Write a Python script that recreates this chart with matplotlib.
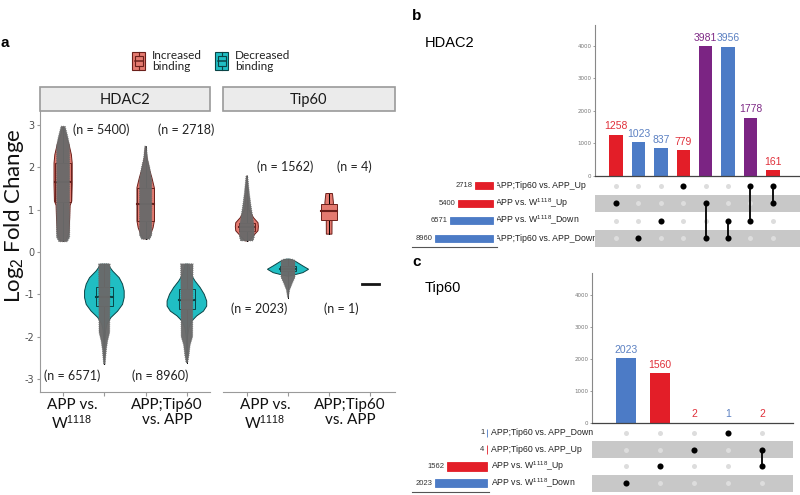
import matplotlib
matplotlib.use('Agg')
import matplotlib.pyplot as plt
from matplotlib.patches import Rectangle, Polygon

plt.rcParams['axes.unicode_minus'] = False
plt.rcParams['mathtext.fontset'] = 'custom'
plt.rcParams['mathtext.rm'] = 'Liberation Sans'
plt.rcParams['mathtext.it'] = 'Liberation Sans:italic'
plt.rcParams['mathtext.bf'] = 'Liberation Sans:bold'

FIG_W, FIG_H = 800, 495

# ---------------------------------------------------------------- panel a
FACETS = ['HDAC2', 'Tip60']
COMPARISONS = ['APP vs.\nW$^{1118}$', 'APP;Tip60\nvs. APP']
GROUPS = ['Increased\nbinding', 'Decreased\nbinding']

# violin outlines, (log2 FC, half width in category units)
HDAC2_APP_UP = [(0.26, 0.06), (0.45, 0.14), (0.8, 0.16), (1.1, 0.17), (1.2, 0.21), (1.6, 0.22),
                (2.1, 0.22), (2.3, 0.2), (2.55, 0.14), (2.75, 0.06), (2.95, 0.01)]
HDAC2_APP_DOWN = [(-0.29, 0.08), (-0.45, 0.2), (-0.61, 0.36), (-0.76, 0.44), (-0.92, 0.48),
                  (-1.08, 0.48), (-1.24, 0.44), (-1.4, 0.32), (-1.55, 0.16), (-1.7, 0.065),
                  (-1.85, 0.03), (-2.1, 0.015), (-2.65, 0.0)]
HDAC2_TIP_UP = [(0.31, 0.05), (0.42, 0.12), (0.57, 0.18), (0.73, 0.21), (1.1, 0.21), (1.52, 0.21),
                (1.76, 0.15), (1.99, 0.08), (2.23, 0.03), (2.5, 0.0)]
HDAC2_TIP_DOWN = [(-0.29, 0.04), (-0.53, 0.1), (-0.69, 0.2), (-0.84, 0.32), (-1.0, 0.42),
                  (-1.16, 0.48), (-1.28, 0.48), (-1.4, 0.4), (-1.51, 0.24), (-1.63, 0.12),
                  (-1.79, 0.05), (-2.0, 0.015), (-2.62, 0.0)]
TIP60_APP_UP = [(0.26, 0.04), (0.34, 0.12), (0.5, 0.27), (0.6, 0.28), (0.69, 0.27), (0.81, 0.16),
                (1.0, 0.05), (1.3, 0.025), (1.8, 0.0)]
TIP60_APP_DOWN = [(-0.17, 0.04), (-0.21, 0.16), (-0.33, 0.36), (-0.41, 0.5), (-0.49, 0.36),
                  (-0.54, 0.16), (-0.57, 0.025)]
TIP60_TIP_UP = [(0.42, 0.068), (0.76, 0.07), (1.14, 0.1), (1.15, 0.105), (1.38, 0.08)]

# jitter clouds of the single points, (log2 FC, half width)
HDAC2_APP_UP_PTS = [(0.24, 0.1), (0.35, 0.16), (2.5, 0.16), (2.7, 0.12), (2.97, 0.05)]
HDAC2_APP_DOWN_PTS = [(-0.28, 0.14), (-1.9, 0.13), (-2.1, 0.08), (-2.3, 0.05), (-2.65, 0.02)]
HDAC2_TIP_UP_PTS = [(0.3, 0.1), (0.4, 0.15), (1.7, 0.15), (2.0, 0.1), (2.2, 0.05), (2.5, 0.02)]
HDAC2_TIP_DOWN_PTS = [(-0.28, 0.15), (-2.0, 0.14), (-2.2, 0.08), (-2.45, 0.05), (-2.62, 0.02)]
TIP60_APP_UP_PTS = [(0.26, 0.15), (0.35, 0.18), (0.6, 0.18), (0.85, 0.14), (1.1, 0.1),
                    (1.4, 0.06), (1.8, 0.02)]
TIP60_APP_DOWN_PTS = [(-0.17, 0.1), (-0.2, 0.17), (-0.6, 0.17), (-0.75, 0.1), (-0.9, 0.04),
                      (-1.08, 0.01)]

# boxplots: q1, median, q3, whisker low, whisker high
HDAC2_BOXES = [(1.17, 1.65, 2.11, 0.26, 2.95), (-1.28, -1.06, -0.84, -2.65, -0.29),
               (0.73, 1.13, 1.52, 0.31, 2.5), (-1.36, -1.13, -0.88, -2.62, -0.29)]
TIP60_BOXES = [(0.5, 0.6, 0.69, 0.26, 1.8), (-0.46, -0.4, -0.33, -1.08, -0.17),
               (0.76, 0.97, 1.14, 0.42, 1.38), (-0.76, -0.76, -0.76, -0.76, -0.76)]

HDAC2_N = [5400, 6571, 2718, 8960]
TIP60_N = [1562, 2023, 4, 1]

# ---------------------------------------------------------------- panels b, c
HD_SETS = ['APP;Tip60 vs. APP_Up', 'APP vs. W$^{1118}$_Up', 'APP vs. W$^{1118}$_Down',
           'APP;Tip60 vs. APP_Down']
HD_SET_SIZES = [2718, 5400, 6571, 8960]
HD_INTER_SIZES = [1258, 1023, 837, 779, 3981, 3956, 1778, 161]
HD_INTER_MEMBERS = [[1], [3], [2], [0], [1, 3], [2, 3], [0, 2], [0, 1]]

TIP_SETS = ['APP;Tip60 vs. APP_Down', 'APP;Tip60 vs. APP_Up', 'APP vs. W$^{1118}$_Up',
            'APP vs. W$^{1118}$_Down']
TIP_SET_SIZES = [1, 4, 1562, 2023]
TIP_INTER_SIZES = [2023, 1560, 2, 1, 2]
TIP_INTER_MEMBERS = [[3], [2], [1], [0], [1, 2]]

UP_FACE, UP_EDGE = '#E47A70', '#6B1F1A'
DOWN_FACE, DOWN_EDGE = '#20BEC3', '#0A4446'
PTS_GREY = '#6A6A6A'
RED, BLUE, PURPLE = '#E31E28', '#4C7BC6', '#7B2483'
RED_TXT, BLUE_TXT, PURPLE_TXT = '#E0303A', '#5B80C2', '#7F2A86'
A_FONT = 'Lato'
B_FONT = 'Liberation Sans'

fig = plt.figure(figsize=(FIG_W / 100, FIG_H / 100), dpi=100)


def px_axes(x, y, w, h):
    return fig.add_axes([x / FIG_W, 1 - (y + h) / FIG_H, w / FIG_W, h / FIG_H])


def outline(profile, x):
    left = [(x - w, y) for y, w in profile]
    right = [(x + w, y) for y, w in profile][::-1]
    return left + right


def draw_facet(ax, shapes, clouds, boxes, counts, npos):
    for slot in range(4):
        x = slot + 1
        face, edge = (UP_FACE, UP_EDGE) if slot % 2 == 0 else (DOWN_FACE, DOWN_EDGE)
        q1, med, q3, lo, hi = boxes[slot]
        if shapes[slot] is not None:
            ax.add_patch(Polygon(outline(shapes[slot], x), closed=True, fc=face, ec=edge,
                                 lw=0.7, zorder=2))
        if q1 == q3:
            ax.plot([x - 0.2, x + 0.2], [med, med], color='#151515', lw=2, zorder=3)
        else:
            ax.plot([x, x], [lo, q1], color='black', lw=0.7, zorder=2.5)
            ax.plot([x, x], [q3, hi], color='black', lw=0.7, zorder=2.5)
            ax.add_patch(Rectangle((x - 0.2, q1), 0.4, q3 - q1, fc=face, ec=edge, lw=0.7,
                                   zorder=3))
            ax.plot([x - 0.2, x + 0.2], [med, med], color=edge, lw=1.5, zorder=3)
        if clouds[slot] is not None:
            ax.add_patch(Polygon(outline(clouds[slot], x), closed=True, fc=PTS_GREY,
                                 ec=PTS_GREY, lw=0.6, ls=(0, (1, 1.5)), alpha=0.97,
                                 zorder=4))
        nx, ny = npos[slot]
        ax.text(nx, ny, f'(n = {counts[slot]})', ha='center', va='center', fontsize=9,
                family=A_FONT, color='#222222')


def style_facet(ax, xlim, left):
    ax.set_xlim(*xlim)
    ax.set_ylim(-3.31, 3.33)
    ax.set_xticks([1, 2, 3, 4])
    ax.set_xticklabels([])
    for s in ['top', 'right']:
        ax.spines[s].set_visible(False)
    ax.spines['bottom'].set_color('#9A9A9A')
    ax.spines['left'].set_color('#9A9A9A')
    ax.tick_params(axis='x', length=3, color='#9A9A9A')
    if left:
        ax.set_yticks([-3, -2, -1, 0, 1, 2, 3])
        ax.tick_params(axis='y', length=2.5, color='#9A9A9A', labelsize=7,
                       labelcolor='#4D4D4D', pad=1.5)
    else:
        ax.spines['left'].set_visible(False)
        ax.set_yticks([])


ax1 = px_axes(40, 111, 170, 281)
style_facet(ax1, (0.44, 4.56), True)
draw_facet(ax1, [HDAC2_APP_UP, HDAC2_APP_DOWN, HDAC2_TIP_UP, HDAC2_TIP_DOWN],
           [HDAC2_APP_UP_PTS, HDAC2_APP_DOWN_PTS, HDAC2_TIP_UP_PTS, HDAC2_TIP_DOWN_PTS],
           HDAC2_BOXES, HDAC2_N,
           [(1.93, 2.88), (1.21, -2.93), (3.99, 2.88), (3.35, -2.93)])

ax2 = px_axes(223, 111, 172, 281)
style_facet(ax2, (0.42, 4.6), False)
draw_facet(ax2, [TIP60_APP_UP, TIP60_APP_DOWN, TIP60_TIP_UP, None],
           [TIP60_APP_UP_PTS, TIP60_APP_DOWN_PTS, None, None],
           TIP60_BOXES, TIP60_N,
           [(1.92, 2.01), (1.30, -1.35), (3.62, 2.01), (3.29, -1.35)])


# ---------------------------------------------------------------- upset panels
def inter_colors(members, names):
    ups = {names[m].endswith('Up') for m in members}
    if ups == {True}:
        return RED, RED_TXT
    if ups == {False}:
        return BLUE, BLUE_TXT
    return PURPLE, PURPLE_TXT


def draw_upset(bars_px, mat_px, sets_px, xlim, ymax, set_xlim, set_h,
               names, set_sizes, inter_sizes, members, label_x):
    n = len(inter_sizes)
    cols = [inter_colors(m, names) for m in members]

    axb = px_axes(*bars_px)
    axb.bar(range(n), inter_sizes, width=0.6, color=[c[0] for c in cols])
    for i, v in enumerate(inter_sizes):
        axb.annotate(str(v), (i, v), xytext=(0, 2.5), textcoords='offset points',
                     ha='center', va='bottom', fontsize=7.5, family=B_FONT,
                     color=cols[i][1])
    axb.set_xlim(*xlim)
    axb.set_ylim(0, ymax)
    axb.set_xticks([])
    axb.set_yticks([0, 1000, 2000, 3000, 4000])
    axb.tick_params(axis='y', labelsize=4, length=1.5, width=0.5, colors='#777777', pad=1)
    for s in ['top', 'right']:
        axb.spines[s].set_visible(False)
    axb.spines['left'].set_color('#888888')
    axb.spines['left'].set_linewidth(0.8)
    axb.spines['bottom'].set_color('#444444')
    axb.spines['bottom'].set_linewidth(0.9)

    axm = px_axes(*mat_px)
    axm.set_xlim(*xlim)
    axm.set_ylim(len(names) - 0.5, -0.5)
    axm.axis('off')
    for r in range(len(names)):
        if r % 2 == 1:
            axm.axhspan(r - 0.5, r + 0.5, color='#C8C8C8', lw=0, zorder=0)
    for j, mem in enumerate(members):
        for r in range(len(names)):
            if r not in mem:
                axm.plot(j, r, 'o', color='#DDDDDD', ms=3.6, mec='none', zorder=1)
        axm.plot([j, j], [min(mem), max(mem)], color='black', lw=1.3, zorder=2)
        axm.plot([j] * len(mem), mem, 'o', color='black', ms=4.4, mec='none', zorder=3)

    axs = px_axes(*sets_px)
    scol = [RED if s.endswith('Up') else BLUE for s in names]
    axs.barh(range(len(names)), set_sizes, height=set_h, color=scol, ec=scol, lw=0.6)
    axs.set_xlim(*set_xlim)
    axs.set_ylim(len(names) - 0.5, -0.5)
    axs.set_xticks([])
    axs.set_yticks([])
    for s in ['top', 'right', 'left']:
        axs.spines[s].set_visible(False)
    axs.spines['bottom'].set_color('#555555')
    axs.spines['bottom'].set_linewidth(0.8)
    pad = 0.035 * set_xlim[0]
    for r, v in enumerate(set_sizes):
        axs.text(v + pad, r, str(v), ha='right', va='center', fontsize=5.5, family=B_FONT,
                 color='#333333')

    x, y, w, h = mat_px
    row_h = h / len(names)
    for r, s in enumerate(names):
        ov.text(label_x, y + row_h * (r + 0.5), s, ha='left', va='center', fontsize=6.3,
                family=B_FONT, color='#222222')


ov = px_axes(0, 0, FIG_W, FIG_H)
ov.set_xlim(0, FIG_W)
ov.set_ylim(FIG_H, 0)
ov.axis('off')
ov.patch.set_visible(False)

draw_upset((595, 25, 205, 150.5), (595, 177, 205, 70), (412, 177, 85, 70),
           (-0.94, 8.21), 4631, (12515, -618), 0.42,
           HD_SETS, HD_SET_SIZES, HD_INTER_SIZES, HD_INTER_MEMBERS, 495)
draw_upset((592, 273, 201, 150), (592, 424.5, 201, 67), (412, 424.5, 77, 67),
           (-1.0, 4.91), 4687, (2918, -78), 0.5,
           TIP_SETS, TIP_SET_SIZES, TIP_INTER_SIZES, TIP_INTER_MEMBERS, 491)

# ---------------------------------------------------------------- annotations
for (x0, w), name in zip([(40, 170), (223, 172)], FACETS):
    ov.add_patch(Rectangle((x0, 87), w, 24, fc='#EBEBEB', ec='#9A9A9A', lw=1.2))
    ov.text(x0 + w / 2, 100, name, ha='center', va='center', fontsize=10.5, family=A_FONT,
            color='#1A1A1A')

for xc_list, lab in zip([(72, 265), (167, 350)], COMPARISONS):
    for xc in xc_list:
        ov.text(xc, 398, lab, ha='center', va='top', fontsize=11, family=A_FONT,
                linespacing=1.1, multialignment='center', color='#111111')

ov.text(14, 216, 'Log$_2$ Fold Change', rotation=90, ha='center', va='center',
        fontsize=16, family=A_FONT, color='#111111')

for kx, tx, lab, face, edge in [(132, 152, GROUPS[0], UP_FACE, UP_EDGE),
                                 (215, 235, GROUPS[1], DOWN_FACE, DOWN_EDGE)]:
    ov.add_patch(Rectangle((kx, 52), 13, 18, fc=face, ec=edge, lw=0.8))
    ov.add_patch(Rectangle((kx + 2.5, 56), 8, 10, fc=face, ec=edge, lw=0.8))
    ov.plot([kx + 2.5, kx + 10.5], [61, 61], color=edge, lw=1.1)
    ov.plot([kx + 6.5, kx + 6.5], [52, 56], color=edge, lw=0.8)
    ov.plot([kx + 6.5, kx + 6.5], [66, 70], color=edge, lw=0.8)
    ov.text(tx, 61, lab, ha='left', va='center', fontsize=8.5, family=A_FONT,
            linespacing=1.05, color='#222222')

ov.text(5, 43, 'a', ha='center', va='center', fontsize=11, fontweight='bold', family=B_FONT)
ov.text(417, 16, 'b', ha='center', va='center', fontsize=11, fontweight='bold', family=B_FONT)
ov.text(417, 262, 'c', ha='center', va='center', fontsize=11, fontweight='bold', family=B_FONT)
ov.text(425, 43, 'HDAC2', ha='left', va='center', fontsize=10.5, family=B_FONT)
ov.text(425, 288, 'Tip60', ha='left', va='center', fontsize=10.5, family=B_FONT)

fig.savefig('out.png', dpi=100)
